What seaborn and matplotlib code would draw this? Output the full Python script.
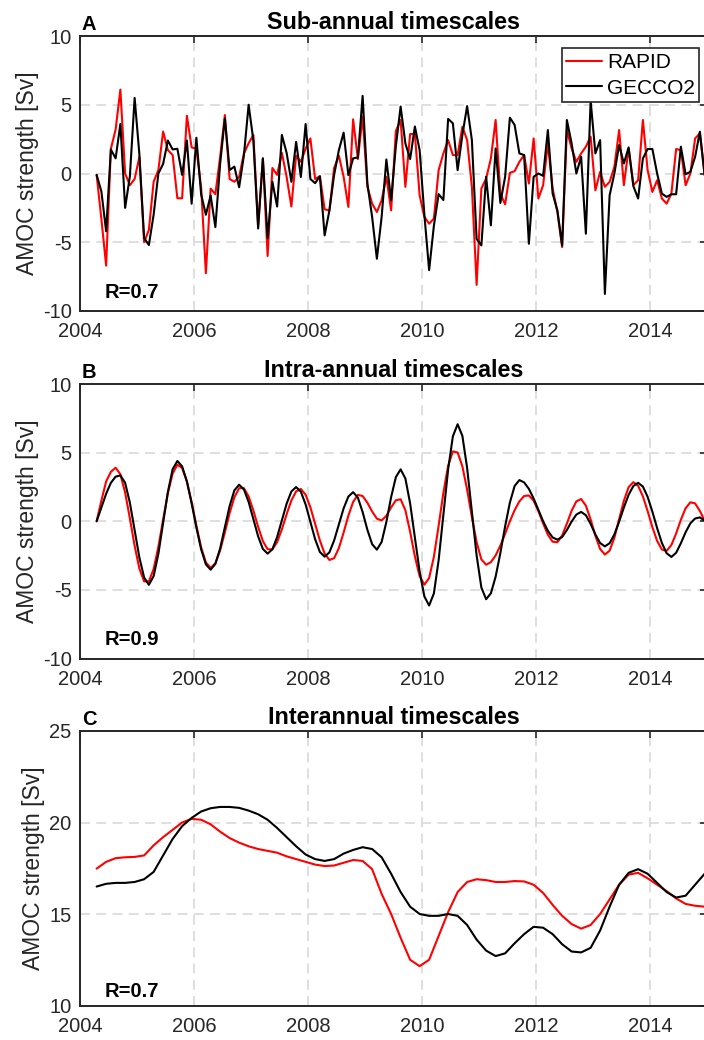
import numpy as np
import pandas as pd
import matplotlib
matplotlib.use("Agg")
import matplotlib.pyplot as plt
import seaborn as sns

# ---- monthly time axis (mid-month, April 2004 onwards) ----
months = np.arange(129)
time = 2004 + (3.5 + months) / 12.0
time_c = time[::2]

# ---- A: sub-annual AMOC anomalies [Sv] ----
rapid_sub = [
    -0.1, -3.3, -6.7, 1.8, 3.2, 6.1, 0.0, -0.85, -0.4, 1.2,
    -5.0, -4.1, -0.6, 0.25, 3.05, 1.7, 1.35, -1.8, -1.8, 4.2,
    1.9, 1.8, -1.0, -7.25, -1.1, -1.5, 1.2, 4.25, -0.4, -0.6,
    -0.25, 1.45, 2.2, 2.8, -3.8, 1.1, -6.0, 0.4, -0.1, 1.5,
    -0.25, -2.4, 1.3, 0.85, 1.8, 2.55, -0.4, -0.2, -2.6, -2.7,
    0.4, 1.3, -0.24, -2.43, 3.94, 1.05, 4.14, -0.97, -2.19, -2.8,
    -1.95, -0.24, -2.68, 3.1, 3.89, -0.97, 2.87, 2.87, -1.58, -3.16,
    -3.65, -3.28, 0.24, 1.46, 2.43, 1.34, 1.34, 3.4, 2.43, -0.97,
    -8.1, -1.09, -0.37, 1.09, 3.89, -1.46, -2.24, 0.05, 0.17, 0.85,
    1.34, -0.73, 2.55, -1.82, -0.85, 2.19, -1.09, -2.8, -5.35, 3.16,
    1.82, 0.85, 1.46, 1.95, 2.68, -1.22, 0.12, -0.97, -0.61, 0.49,
    3.16, -0.85, 1.82, -0.85, -0.49, 3.89, 0.24, -1.34, -0.49, -1.82,
    -2.19, -1.46, 1.78, 1.7, -0.85, 0.0, 2.55, 2.92, -0.12,
]
gecco_sub = [
    -0.1, -1.3, -4.2, 1.75, 1.1, 3.6, -2.5, -0.2, 5.5, 1.4,
    -4.7, -5.2, -3.0, 0.0, 0.7, 2.4, 1.75, 1.8, -0.1, 2.4,
    -2.2, 2.6, -1.5, -3.0, -1.6, -3.9, 0.7, 4.0, 0.25, 0.5,
    -1.0, 1.3, 5.0, 2.4, -4.0, 1.1, -4.7, -0.6, -2.4, 2.8,
    1.5, -0.6, 2.3, -0.25, 3.6, -0.4, -0.7, -0.2, -4.5, -2.7,
    -0.1, 1.7, 2.97, -0.12, 1.1, 1.17, 5.65, -0.73, -3.16, -6.2,
    -3.16, 1.02, -1.95, 2.0, 4.87, 2.19, 1.05, 3.42, 1.7, -3.0,
    -7.03, -3.8, -1.5, -1.93, 3.97, 3.65, 0.24, 2.8, 4.9, 2.43,
    -4.75, -5.23, -0.24, -3.77, 1.82, -2.14, -0.24, 4.06, 3.53, 1.46,
    1.34, -5.11, -0.24, 0.0, -0.17, 3.16, -1.46, -2.68, -5.23, 3.89,
    2.19, 0.0, 1.22, -4.38, 5.3, 1.46, 2.43, -8.76, -1.58, 0.0,
    2.07, 0.73, 1.9, -0.92, -1.82, 1.09, 1.78, 1.78, 0.0, -1.46,
    -1.7, -1.51, -1.51, 1.95, -0.05, 0.12, 1.22, 3.04, -0.1,
]

# ---- B: intra-annual AMOC anomalies [Sv] ----
rapid_intra = [
    0.0, 1.5, 2.9, 3.6, 3.9, 3.42, 2.09, 0.21, -1.79, -3.45,
    -4.38, -4.38, -3.48, -1.86, 0.12, 2.04, 3.47, 4.12, 3.88, 2.91,
    1.4, -0.32, -1.9, -3.0, -3.4, -3.06, -2.13, -0.81, 0.59, 1.75,
    2.41, 2.41, 1.81, 0.78, -0.41, -1.45, -2.04, -2.05, -1.52, -0.59,
    0.51, 1.52, 2.18, 2.35, 1.93, 1.02, -0.18, -1.4, -2.35, -2.82,
    -2.69, -1.96, -0.82, 0.41, 1.41, 1.92, 1.84, 1.35, 0.71, 0.19,
    0.06, 0.4, 1.01, 1.53, 1.6, 0.8, -0.77, -2.56, -4.0, -4.62,
    -4.14, -2.59, -0.33, 2.07, 4.04, 5.09, 5.01, 4.0, 2.3, 0.31,
    -1.53, -2.78, -3.17, -2.98, -2.49, -1.77, -0.91, 0.0, 0.81, 1.45,
    1.84, 1.88, 1.5, 0.75, -0.16, -0.98, -1.49, -1.53, -1.04, -0.17,
    0.77, 1.45, 1.62, 1.14, 0.13, -1.06, -2.02, -2.43, -2.14, -1.2,
    0.13, 1.49, 2.49, 2.85, 2.58, 1.82, 0.74, -0.43, -1.43, -2.06,
    -2.16, -1.73, -0.89, 0.11, 0.95, 1.38, 1.3, 0.75, 0.05,
]
gecco_intra = [
    0.0, 1.0, 2.0, 2.8, 3.25, 3.34, 2.8, 1.35, -0.65, -2.64,
    -4.1, -4.63, -4.0, -2.37, -0.12, 2.13, 3.79, 4.39, 4.0, 2.9,
    1.31, -0.45, -2.04, -3.14, -3.53, -3.11, -1.98, -0.43, 1.11, 2.25,
    2.66, 2.32, 1.41, 0.15, -1.1, -2.02, -2.36, -2.04, -1.15, 0.07,
    1.28, 2.17, 2.49, 2.15, 1.22, -0.05, -1.31, -2.24, -2.58, -2.27,
    -1.4, -0.23, 0.94, 1.8, 2.12, 1.72, 0.67, -0.62, -1.67, -2.07,
    -1.51, -0.05, 1.76, 3.22, 3.78, 3.12, 1.3, -1.18, -3.66, -5.48,
    -6.14, -5.26, -2.84, 0.47, 3.77, 6.19, 7.07, 6.22, 3.88, 0.7,
    -2.49, -4.83, -5.68, -5.25, -4.04, -2.31, -0.37, 1.36, 2.57, 3.0,
    2.83, 2.36, 1.66, 0.83, 0.0, -0.7, -1.18, -1.34, -1.15, -0.64,
    -0.02, 0.49, 0.68, 0.44, -0.19, -0.96, -1.59, -1.83, -1.6, -0.96,
    -0.03, 1.0, 1.93, 2.57, 2.8, 2.53, 1.78, 0.7, -0.5, -1.58,
    -2.33, -2.6, -2.3, -1.6, -0.8, -0.15, 0.2, 0.28, 0.05,
]

# ---- C: interannual AMOC strength [Sv], every second month ----
rapid_inter = [
    17.48, 17.85, 18.05, 18.1, 18.12, 18.2, 18.75, 19.2, 19.6, 20.0,
    20.2, 20.15, 19.9, 19.5, 19.15, 18.9, 18.7, 18.55, 18.45, 18.35,
    18.15, 18.0, 17.85, 17.7, 17.62, 17.65, 17.8, 17.95, 17.9, 17.45,
    16.1, 15.0, 13.7, 12.5, 12.15, 12.5, 13.8, 15.1, 16.2, 16.75,
    16.9, 16.85, 16.75, 16.75, 16.8, 16.78, 16.6, 16.15, 15.5, 14.9,
    14.45, 14.2, 14.4, 15.0, 15.8, 16.6, 17.15, 17.25, 16.95, 16.6,
    16.25, 15.85, 15.55, 15.45, 15.4,
]
gecco_inter = [
    16.5, 16.65, 16.7, 16.7, 16.75, 16.9, 17.3, 18.2, 19.1, 19.8,
    20.25, 20.6, 20.78, 20.85, 20.85, 20.8, 20.65, 20.45, 20.15, 19.7,
    19.2, 18.7, 18.25, 18.0, 17.9, 18.0, 18.3, 18.5, 18.65, 18.55,
    18.1, 17.2, 16.2, 15.4, 15.0, 14.9, 14.9, 15.0, 14.9, 14.4,
    13.6, 13.0, 12.7, 12.85, 13.4, 13.9, 14.3, 14.25, 13.9, 13.35,
    12.95, 12.9, 13.15, 14.1, 15.4, 16.6, 17.25, 17.45, 17.2, 16.7,
    16.2, 15.9, 16.0, 16.6, 17.2,
]

titles = ["Sub-annual timescales", "Intra-annual timescales", "Interannual timescales"]
letters = ["A", "B", "C"]
correlations = ["R=0.7", "R=0.9", "R=0.7"]
xticks = [2004, 2006, 2008, 2010, 2012, 2014]
ylabel = "AMOC strength [Sv]"

sns.set_theme(style="white")
plt.rcParams["font.family"] = ["Liberation Sans", "DejaVu Sans"]
plt.rcParams["axes.unicode_minus"] = False

fig = plt.figure(figsize=(7.04, 10.40), dpi=100)

left, width = 80 / 704, 627 / 704
positions = [
    [left, 1 - 311 / 1040, width, 275 / 1040],
    [left, 1 - 658.5 / 1040, width, 274.5 / 1040],
    [left, 1 - 1005.5 / 1040, width, 274.5 / 1040],
]
series = [
    (time, rapid_sub, gecco_sub, (-10, 10), [-10, -5, 0, 5, 10]),
    (time, rapid_intra, gecco_intra, (-10, 10), [-10, -5, 0, 5, 10]),
    (time_c, rapid_inter, gecco_inter, (10, 25), [10, 15, 20, 25]),
]
r_y = [0.048, 0.048, 0.032]

spine_col = "#262626"
for k, (pos, (t, red, blk, ylim, yticks)) in enumerate(zip(positions, series)):
    ax = fig.add_axes(pos)
    ax.set_axisbelow(True)
    ax.grid(True, color="#dcdcdc", linewidth=1.3, linestyle=(0, (5.5, 3.5)))
    sns.lineplot(x=t, y=red, ax=ax, color="#ff0000", linewidth=1.5,
                 label="RAPID" if k == 0 else None, legend=False)
    sns.lineplot(x=t, y=blk, ax=ax, color="#000000", linewidth=1.5,
                 label="GECCO2" if k == 0 else None, legend=False)
    ax.set_xlim(2004, 2015)
    ax.set_ylim(*ylim)
    ax.set_xticks(xticks)
    ax.set_yticks(yticks)
    ax.set_xticklabels([str(v) for v in xticks])
    ax.set_yticklabels([str(v) for v in yticks])
    for s in ax.spines.values():
        s.set_visible(True)
        s.set_color(spine_col)
        s.set_linewidth(1.4)
    ax.tick_params(axis="both", which="major", direction="in", length=5, width=1.2,
                   color=spine_col, labelsize=14.5, labelcolor="#262626",
                   top=True, right=True)
    ax.tick_params(axis="x", pad=8)
    ax.tick_params(axis="y", pad=6)
    ax.set_ylabel(ylabel, fontsize=16.5, color="#262626", labelpad=3)
    ax.set_xlabel("")
    ax.text(0.5, 1.027, titles[k], transform=ax.transAxes, ha="center",
            va="baseline", fontsize=16.8, fontweight="bold", color="black")
    ax.text(0.003, 1.022, letters[k], transform=ax.transAxes, ha="left",
            va="baseline", fontsize=14.5, fontweight="bold", color="black")
    ax.text(0.04, r_y[k], correlations[k], transform=ax.transAxes, ha="left",
            va="baseline", fontsize=14.5, fontweight="bold", color="black")
    if k == 0:
        leg = ax.legend(loc="upper right", bbox_to_anchor=(0.988, 0.955),
                        frameon=True, fancybox=False, framealpha=1,
                        fontsize=15, borderpad=0.22, labelspacing=0.32,
                        handlelength=1.7, handletextpad=0.25, borderaxespad=0)
        leg.get_frame().set_edgecolor(spine_col)
        leg.get_frame().set_linewidth(1.2)
        for txt in leg.get_texts():
            txt.set_color("black")

fig.savefig("out.png", dpi=100)
